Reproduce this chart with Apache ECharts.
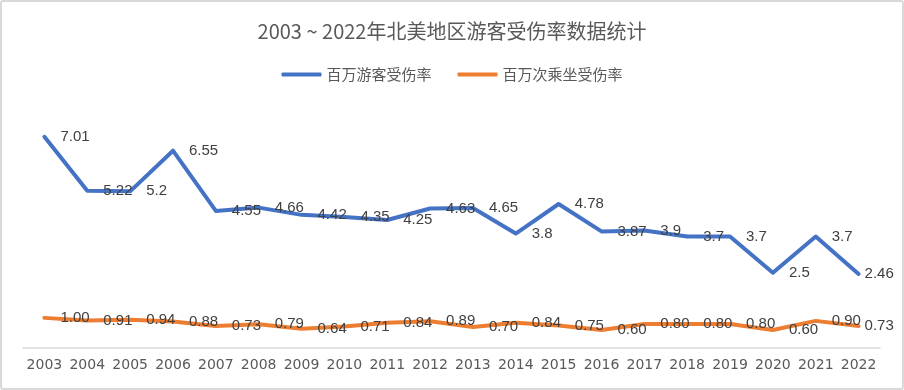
<!DOCTYPE html>
<html>
<head>
<meta charset="utf-8">
<script src="https://cdn.jsdelivr.net/npm/echarts@6/dist/echarts.min.js"></script>
<style>
html,body{margin:0;padding:0;background:#fff;}
#wrap{position:relative;width:904px;height:390px;}
#chart{position:absolute;left:0;top:0;width:904px;height:390px;}
#frame{position:absolute;left:0;top:0;width:904px;height:390px;box-sizing:border-box;border:2px solid #d9d9d9;border-radius:3px;pointer-events:none;}
</style>
</head>
<body>
<div id="wrap"><div id="chart"></div><div id="frame"></div></div>
<script>
const titleText = '2003 ~ 2022年北美地区游客受伤率数据统计';
const years = ['2003','2004','2005','2006','2007','2008','2009','2010','2011','2012','2013','2014','2015','2016','2017','2018','2019','2020','2021','2022'];
const touristName = '百万游客受伤率';
const touristRate = [7.01,5.22,5.2,6.55,4.55,4.66,4.42,4.35,4.25,4.63,4.65,3.8,4.78,3.87,3.9,3.7,3.7,2.5,3.7,2.46];
const touristLabels = ['7.01','5.22','5.2','6.55','4.55','4.66','4.42','4.35','4.25','4.63','4.65','3.8','4.78','3.87','3.9','3.7','3.7','2.5','3.7','2.46'];
const rideName = '百万次乘坐受伤率';
const rideRate = [1.00,0.91,0.94,0.88,0.73,0.79,0.64,0.71,0.84,0.89,0.70,0.84,0.75,0.60,0.80,0.80,0.80,0.60,0.90,0.73];

const font = '"Noto Sans CJK SC","Noto Sans",sans-serif';
const numFont = '"Liberation Sans",Arial,sans-serif';
const lastIdx = years.length - 1;
function withLastLabel(arr){
  return arr.map((v,i)=> i===lastIdx ? {value:v, label:{distance:6}} : v);
}
const chart = echarts.init(document.getElementById('chart'), null, {renderer:'canvas'});
chart.setOption({
  backgroundColor:'#fff',
  animation:false,
  title:{
    text:titleText, left:'center', top:16,
    textStyle:{fontFamily:font, fontSize:20, fontWeight:'normal', color:'#595959'}
  },
  legend:{
    top:62, left:'center',
    itemWidth:40, itemHeight:4, itemGap:26,
    icon:'roundRect',
    textStyle:{fontFamily:font, fontSize:15, color:'#595959'},
    data:[touristName, rideName]
  },
  grid:{left:23, right:24, top:107, bottom:42, containLabel:false},
  xAxis:{
    type:'category', data:years, boundaryGap:true,
    axisLine:{show:true, lineStyle:{color:'#d9d9d9', width:1.5}},
    axisTick:{show:false},
    axisLabel:{fontFamily:'"DejaVu Sans",sans-serif', fontSize:14, color:'#595959', margin:10, interval:0}
  },
  yAxis:{
    type:'value', min:0, max:8, interval:1,
    show:false, splitLine:{show:false}
  },
  series:[
    {
      name:touristName, type:'line', data:withLastLabel(touristRate),
      showSymbol:true, symbol:'circle', symbolSize:0,
      itemStyle:{color:'#4472C4'},
      lineStyle:{color:'#4472C4', width:4, join:'round', cap:'round'},
      label:{show:true, position:'right', distance:16, fontFamily:numFont, fontSize:15, color:'#404040',
        formatter:p=>touristLabels[p.dataIndex]},
      labelLayout:{hideOverlap:false}
    },
    {
      name:rideName, type:'line', data:withLastLabel(rideRate),
      showSymbol:true, symbol:'circle', symbolSize:0,
      itemStyle:{color:'#ED7D31'},
      lineStyle:{color:'#ED7D31', width:4, join:'round', cap:'round'},
      label:{show:true, position:'right', distance:16, fontFamily:numFont, fontSize:15, color:'#404040',
        formatter:p=>rideRate[p.dataIndex].toFixed(2)},
      labelLayout:{hideOverlap:false}
    }
  ]
});
</script>
</body>
</html>
